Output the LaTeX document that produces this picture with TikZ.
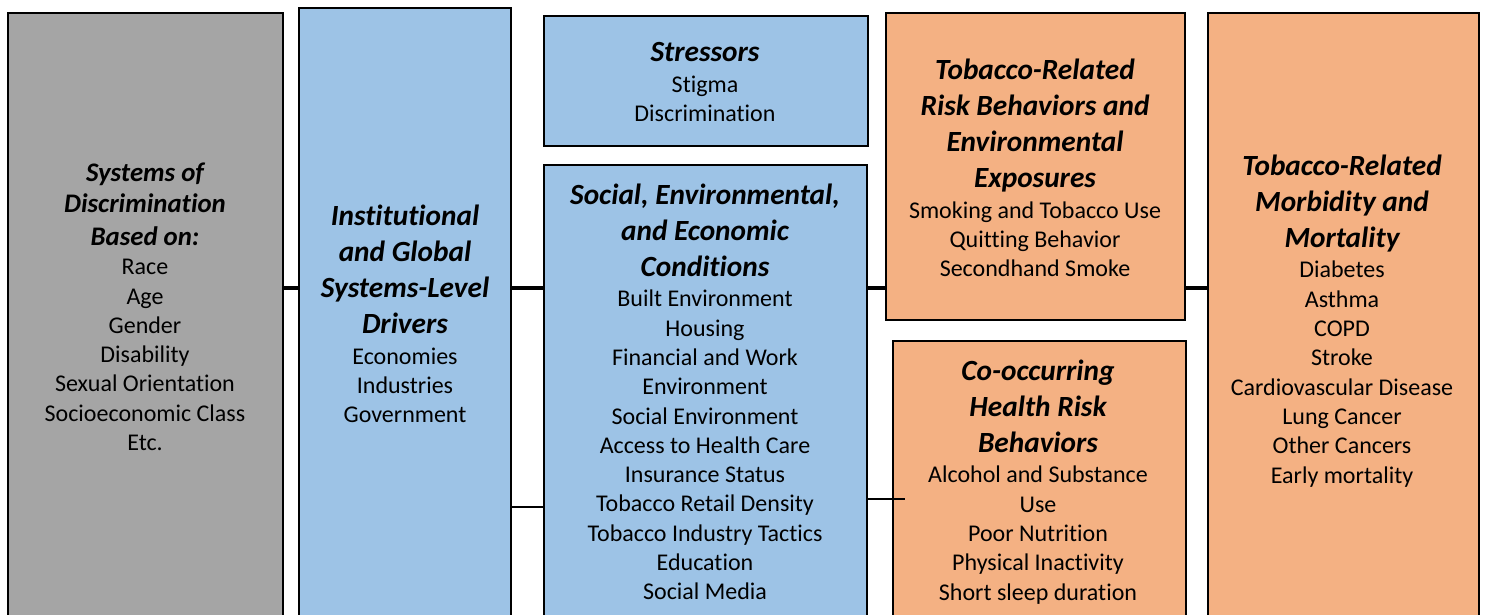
\documentclass[tikz,border=0pt]{standalone}
\usepackage{fontspec}
\setmainfont{Carlito}[Ligatures=CommonOff]
\newcommand\bodyfont{\fontsize{24}{29.3}\selectfont}
\newcommand\hd[1]{{\fontsize{29.3}{36}\selectfont\bfseries\itshape #1}}
\newcommand\shd[1]{{\fontsize{26.8}{33}\selectfont\bfseries\itshape #1}}
\begin{document}
\begin{tikzpicture}[x=1pt,y=-1pt,
  box/.style={draw=black,line width=2.4pt,anchor=north west,inner sep=0pt,minimum height=660pt},
  txt/.style={align=center,inner sep=0pt,font=\bodyfont},
  mainlink/.style={draw=black,line width=4.5pt},
  sidelink/.style={draw=black,line width=1.3pt}]
\definecolor{boxgray}{HTML}{A5A5A5}
\definecolor{boxblue}{HTML}{9DC3E6}
\definecolor{boxorange}{HTML}{F4B183}
\clip (0,0) rectangle (1485,615);
\fill[white] (0,0) rectangle (1485,615);

% boxes
\node[box,fill=boxgray,minimum width=275pt] (b1) at (7,12) {};
\node[box,fill=boxblue,minimum width=212pt] (b2) at (298,7) {};
\node[box,fill=boxblue,minimum width=324pt,minimum height=130pt] (b3a) at (543,15) {};
\node[box,fill=boxblue,minimum width=323pt] (b3b) at (543,164) {};
\node[box,fill=boxorange,minimum width=299pt,minimum height=307pt] (b4a) at (885,12) {};
\node[box,fill=boxorange,minimum width=293pt] (b4b) at (892,340) {};
\node[box,fill=boxorange,minimum width=271pt] (b5) at (1207,12) {};

% connectors
\coordinate (mainrow) at (0,288);
\draw[mainlink] (mainrow -| b1.east) -- (mainrow -| b2.west);
\draw[mainlink] (mainrow -| b2.east) -- (mainrow -| b3b.west);
\draw[mainlink] (mainrow -| b3b.east) -- (mainrow -| b4a.west);
\draw[mainlink] (mainrow -| b4a.east) -- (mainrow -| b5.west);
\coordinate (lowrow) at (0,507);
\draw[sidelink] (lowrow -| b2.east) -- (lowrow -| b3b.west);
\coordinate (tipend) at (905,499);
\draw[sidelink] (tipend -| b3b.east) -- (tipend);

% texts
\node[txt] (t1) at (145,307) {\shd{Systems of}\\[1pt] \shd{Discrimination}\\[4pt] \shd{Based on:}\\
  Race\\ Age\\ Gender\\ Disability\\ Sexual Orientation\\ Socioeconomic Class\\ Etc.};
\node[txt] (t2) at (405,314) {\hd{Institutional}\\[6.7pt] \hd{and Global}\\[6.7pt] \hd{Systems-Level}\\[6.7pt] \hd{Drivers}\\[1pt]
  Economies\\ Industries\\ Government};
\node[txt] (t3a) at (705,82) {\hd{Stressors}\\[2pt] Stigma\\ Discrimination};
\node[txt] (t3b) at (705,392) {\hd{Social, Environmental,}\\[6.7pt] \hd{and Economic}\\[6.7pt] \hd{Conditions}\\[1pt]
  Built Environment\\ Housing\\ Financial and Work\\ Environment\\ Social Environment\\
  Access to Health Care\\ Insurance Status\\ Tobacco Retail Density\\ Tobacco Industry Tactics\\
  Education\\ Social Media};
\node[txt] (t4a) at (1035,168) {\hd{Tobacco-Related}\\[6.7pt] \hd{Risk Behaviors and}\\[6.7pt] \hd{Environmental}\\[6.7pt] \hd{Exposures}\\[1pt]
  Smoking and Tobacco Use\\ Quitting Behavior\\ Secondhand Smoke};
\node[txt] (t4b) at (1038,482) {\hd{Co-occurring}\\[6.7pt] \hd{Health Risk}\\[6.7pt] \hd{Behaviors}\\[1pt]
  Alcohol and Substance\\ Use\\ Poor Nutrition\\ Physical Inactivity\\ Short sleep duration};
\node[txt] (t5) at (1342,321) {\hd{Tobacco-Related}\\[6.7pt] \hd{Morbidity and}\\[6.7pt] \hd{Mortality}\\[1pt]
  Diabetes\\ Asthma\\ COPD\\ Stroke\\ Cardiovascular Disease\\ Lung Cancer\\ Other Cancers\\ Early mortality};
\end{tikzpicture}
\end{document}
